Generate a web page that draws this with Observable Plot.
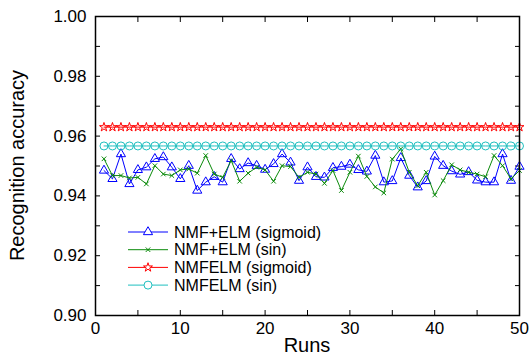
<!DOCTYPE html>
<html><head><meta charset="utf-8">
<script src="https://cdn.jsdelivr.net/npm/d3@7"></script>
<script src="https://cdn.jsdelivr.net/npm/@observablehq/plot@0.6"></script>
<style>body{margin:0;background:#fff} svg{display:block}</style>
</head><body><div id="chart"></div>
<script>
const runs = [1,2,3,4,5,6,7,8,9,10,11,12,13,14,15,16,17,18,19,20,21,22,23,24,25,26,27,28,29,30,31,32,33,34,35,36,37,38,39,40,41,42,43,44,45,46,47,48,49,50];
const nmfElmSigmoid = [0.9485,0.9457,0.9540,0.9440,0.9487,0.9496,0.9524,0.9530,0.9496,0.9457,0.9501,0.9418,0.9446,0.9464,0.9446,0.9524,0.9490,0.9510,0.9501,0.9488,0.9507,0.9540,0.9512,0.9451,0.9496,0.9464,0.9462,0.9494,0.9498,0.9505,0.9487,0.9482,0.9535,0.9446,0.9450,0.9527,0.9468,0.9429,0.9450,0.9532,0.9501,0.9483,0.9472,0.9480,0.9452,0.9446,0.9446,0.9540,0.9451,0.9498];
const nmfElmSin = [0.9524,0.9468,0.9468,0.9460,0.9462,0.9440,0.9501,0.9473,0.9468,0.9487,0.9490,0.9476,0.9535,0.9473,0.9462,0.9518,0.9449,0.9476,0.9496,0.9487,0.9449,0.9501,0.9498,0.9462,0.9479,0.9473,0.9442,0.9485,0.9418,0.9479,0.9533,0.9465,0.9430,0.9410,0.9523,0.9557,0.9479,0.9434,0.9479,0.9403,0.9451,0.9504,0.9487,0.9479,0.9473,0.9464,0.9535,0.9501,0.9457,0.9485];
const nmfelmSigmoid = [0.963,0.963,0.963,0.963,0.963,0.963,0.963,0.963,0.963,0.963,0.963,0.963,0.963,0.963,0.963,0.963,0.963,0.963,0.963,0.963,0.963,0.963,0.963,0.963,0.963,0.963,0.963,0.963,0.963,0.963,0.963,0.963,0.963,0.963,0.963,0.963,0.963,0.963,0.963,0.963,0.963,0.963,0.963,0.963,0.963,0.963,0.963,0.963,0.963,0.963];
const nmfelmSin = [0.9567,0.9567,0.9567,0.9567,0.9567,0.9567,0.9567,0.9567,0.9567,0.9567,0.9567,0.9567,0.9567,0.9567,0.9567,0.9567,0.9567,0.9567,0.9567,0.9567,0.9567,0.9567,0.9567,0.9567,0.9567,0.9567,0.9567,0.9567,0.9567,0.9567,0.9567,0.9567,0.9567,0.9567,0.9567,0.9567,0.9567,0.9567,0.9567,0.9567,0.9567,0.9567,0.9567,0.9567,0.9567,0.9567,0.9567,0.9567,0.9567,0.9567];
const seriesNames = ["NMF+ELM (sigmoid)", "NMF+ELM (sin)", "NMFELM (sigmoid)", "NMFELM (sin)"];
const seriesColors = ["#0000ff", "#0a8a0a", "#ff0000", "#1fbfbf"];
const seriesSymbols = ["triangle", "times", "star", "circle"];
const xTickLabels = [0, 10, 20, 30, 40, 50];
const xTickMarks = [0, 5, 10, 15, 20, 25, 30, 35, 40, 45, 50];
const yTickLabels = [0.90, 0.92, 0.94, 0.96, 0.98, 1.00];
const yTickMarks = [0.90, 0.91, 0.92, 0.93, 0.94, 0.95, 0.96, 0.97, 0.98, 0.99, 1.00];
const xTitle = "Runs";
const yTitle = "Recognition accuracy";

const font = "'Liberation Sans', Arial, Helvetica, sans-serif";
const seriesValues = [nmfElmSigmoid, nmfElmSin, nmfelmSigmoid, nmfelmSin];
const seriesR = [3.4, 2.2, 2.8, 4];
const seriesData = seriesValues.map(vals => runs.map((run, i) => ({run, value: vals[i]})));

const W = 529, H = 357;
const marginLeft = 95, marginRight = 10, marginTop = 16, marginBottom = 42;

const marks = [
  Plot.axisX({anchor: "bottom", ticks: xTickMarks, tickSize: 5, dy: -5, tickFormat: () => "", label: null, stroke: "#000"}),
  Plot.axisX({anchor: "top", ticks: xTickMarks, tickSize: 5, dy: 5, tickFormat: () => "", label: null, stroke: "#000"}),
  Plot.axisX({anchor: "bottom", ticks: xTickLabels, tickSize: 0, tickPadding: 6, tickFormat: d3.format("d"), label: null, fontSize: 17, fill: "#000"}),
  Plot.axisY({anchor: "left", ticks: yTickMarks, tickSize: 5, dx: 5, tickFormat: () => "", label: null, stroke: "#000"}),
  Plot.axisY({anchor: "right", ticks: yTickMarks, tickSize: 5, dx: -5, tickFormat: () => "", label: null, stroke: "#000"}),
  Plot.axisY({anchor: "left", ticks: yTickLabels, tickSize: 0, tickPadding: 9, tickFormat: d3.format(".2f"), label: null, fontSize: 17, fill: "#000"}),
];
seriesData.forEach((data, k) => {
  marks.push(Plot.line(data, {x: "run", y: "value", stroke: seriesColors[k], strokeWidth: 1}));
  marks.push(Plot.dot(data, {x: "run", y: "value", stroke: seriesColors[k], fill: "none", symbol: seriesSymbols[k], r: seriesR[k], strokeWidth: 1}));
});
marks.push(Plot.frame({stroke: "#000", strokeWidth: 1.5}));

const chart = Plot.plot({
  width: W, height: H,
  marginLeft, marginRight, marginTop, marginBottom,
  style: {fontFamily: font, background: "#fff", color: "#000", overflow: "visible"},
  x: {domain: [0, 50]},
  y: {domain: [0.90, 1.00]},
  marks
});
document.getElementById("chart").appendChild(chart);

const svg = d3.select(chart);
// axis titles
svg.append("text").attr("transform", `translate(24,${(marginTop + H - marginBottom) / 2}) rotate(-90)`)
  .attr("text-anchor", "middle").attr("font-family", font).attr("font-size", 20).attr("fill", "#000").text(yTitle);
svg.append("text").attr("x", (marginLeft + W - marginRight) / 2).attr("y", 352)
  .attr("text-anchor", "middle").attr("font-family", font).attr("font-size", 20).attr("fill", "#000").text(xTitle);

// legend
const lg = svg.append("g").attr("font-family", font).attr("font-size", 16).attr("text-anchor", "start");
const symbolTypes = {triangle: d3.symbolTriangle, times: d3.symbolTimes, star: d3.symbolStar, circle: d3.symbolCircle};
seriesNames.forEach((name, k) => {
  const y = 232 + k * 17.7;
  lg.append("line").attr("x1", 128).attr("x2", 168).attr("y1", y).attr("y2", y)
    .attr("stroke", seriesColors[k]).attr("stroke-width", 1);
  lg.append("path").attr("transform", `translate(148,${y})`)
    .attr("d", d3.symbol(symbolTypes[seriesSymbols[k]], Math.PI * seriesR[k] * seriesR[k])())
    .attr("fill", "#fff").attr("stroke", seriesColors[k]).attr("stroke-width", 1);
  lg.append("text").attr("x", 174).attr("y", y).attr("dy", "0.35em").attr("fill", "#000").text(name);
});
</script></body></html>
